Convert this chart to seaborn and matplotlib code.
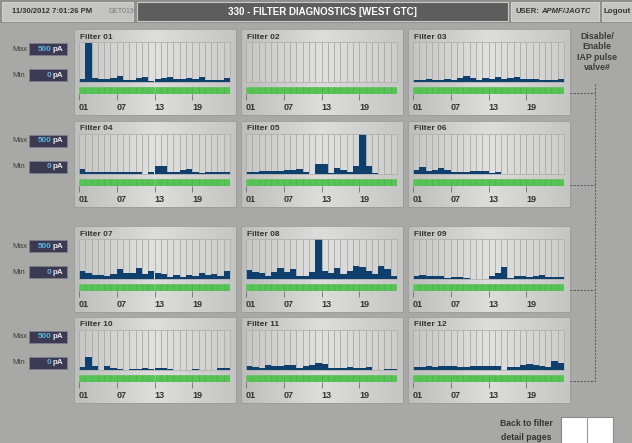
import numpy as np
import matplotlib
matplotlib.use('Agg')
import matplotlib.pyplot as plt
import seaborn as sns
from matplotlib.patches import Rectangle
from matplotlib.colors import LinearSegmentedColormap

sns.set_theme(style='white')
plt.rcParams['font.family'] = ['Liberation Sans', 'DejaVu Sans']

nan = np.nan

# pulse valve numbers on the x axis
days = ['01', '02', '03', '04', '05', '06', '07', '08', '09', '10', '11', '12',
        '13', '14', '15', '16', '17', '18', '19', '20', '21', '22', '23', '24']
tick_days = ['01', '07', '13', '19']

filter_names = ['Filter 01', 'Filter 02', 'Filter 03', 'Filter 04', 'Filter 05', 'Filter 06',
                'Filter 07', 'Filter 08', 'Filter 09', 'Filter 10', 'Filter 11', 'Filter 12']

# pulse readings in pA (0-500), nan = no reading
f01 = [33, 490, 50, 38, 38, 45, 70, 29, 29, 50, 62, 17, 42, 45, 62, 42, 33, 50, 42, 62, 29, 29, 29, 45]
f02 = [nan, nan, nan, nan, nan, nan, nan, nan, nan, nan, nan, nan,
       nan, nan, nan, nan, nan, nan, nan, nan, nan, nan, nan, nan]
f03 = [20, 20, 33, 29, 29, 38, 25, 54, 70, 50, 25, 45, 42, 58, 42, 45, 62, 38, 33, 33, 20, 20, 20, 38]
f04 = [68, 25, 25, 30, 25, 30, 25, 25, 25, 30, nan, 25, 97, 105, 25, 30, 50, 68, 30, 12, 30, 25, 25, 25]
f05 = [30, 30, 34, 34, 34, 34, 47, 47, 64, 30, nan, 123, 131, 13, 80, 47, 30, 102, 500, 97, 13, nan, nan, nan]
f06 = [54, 83, 38, 54, 75, 46, 25, 25, 25, 38, 38, 33, 17, 25, nan, nan, nan, nan, nan, nan, nan, nan, nan, nan]
f07 = [103, 73, 51, 51, 43, 60, 128, 81, 73, 137, 64, 94, 81, 68, 21, 56, 21, 47, 38, 81, 56, 68, 38, 94]
f08 = [112, 92, 79, 33, 88, 142, 83, 125, 38, 38, 83, 500, 100, 79, 138, 62, 96, 167, 150, 100, 62, 158, 125, 38]
f09 = [33, 50, 38, 38, 38, 17, 29, 25, 17, nan, nan, nan, 38, 71, 146, 17, 33, 42, 29, 42, 50, 29, 29, 21]
f10 = [33, 158, 50, nan, 50, 21, 12, nan, 12, 12, 21, 12, 21, 21, 12, nan, nan, nan, 12, nan, nan, nan, 21, 25]
f11 = [54, 38, 25, 58, 54, 50, 58, 58, 21, 50, 62, 92, 71, 21, 21, 21, 33, 21, 21, 33, nan, nan, 12, 12]
f12 = [38, 38, 46, 38, 50, 46, 46, 38, 42, 50, 50, 46, 50, 46, nan, 38, 42, 58, 75, 58, 46, 38, 112, 83]

# valve enabled status (green strip)
valve_on = [1, 1, 1, 1, 1, 1, 1, 1, 1, 1, 1, 1, 1, 1, 1, 1, 1, 1, 1, 1, 1, 1, 1, 1]

scale_max = '500'
scale_min = '0'
timestamp = '11/30/2012 7:01:26 PM'
station = 'DET019'
page_title = '330 - FILTER DIAGNOSTICS [WEST GTC]'
user_name = 'APMF/JAGTC'

series = [f01, f02, f03, f04, f05, f06, f07, f08, f09, f10, f11, f12]

W, H = 632, 443
fig = plt.figure(figsize=(W / 100, H / 100), dpi=100)
fig.patch.set_facecolor('#a8a9a6')

# full-size background axes in pixel coordinates
bg = fig.add_axes([0, 0, 1, 1])
bg.set_axis_off()


def px_axes(x, y, w, h):
    return fig.add_axes([x / W, 1 - (y + h) / H, w / W, h / H])


dark = '#333333'

# header strip
bg.add_patch(Rectangle((0, 0), W, 23, fc='#8e8f8c', ec='none'))
bg.add_patch(Rectangle((2, 2), 131, 19, fc='#c4c5c2', ec='#d8d8d6', lw=0.6))
bg.text(12, 11.5, timestamp, fontsize=5.5, fontweight='bold', color=dark, va='center')
bg.text(108, 11.5, station, fontsize=5, color='#7c7c7c', va='center')
bg.add_patch(Rectangle((137, 2), 371, 19, fc='#5c5d5c', ec='#c9c9c9', lw=0.8))
bg.text(322, 11.5, page_title, fontsize=7, fontweight='bold', color='white', ha='center', va='center')
bg.add_patch(Rectangle((511, 2), 88, 19, fc='#c4c5c2', ec='#d8d8d6', lw=0.6))
bg.text(516, 11.5, 'USER:', fontsize=5.5, fontweight='bold', color=dark, va='center')
bg.text(541, 11.5, user_name, fontsize=5.5, fontweight='bold', style='italic', color=dark, va='center')
bg.add_patch(Rectangle((602, 2), 40, 19, fc='#c4c5c2', ec='#d8d8d6', lw=0.6))
bg.text(604, 11.5, 'Logout', fontsize=5.8, fontweight='bold', color=dark, va='center')

col_x = [74, 241, 408]
row_y = [29, 121, 226, 317]
panel_cmap = LinearSegmentedColormap.from_list('panel', ['#bdbdbc', '#dddddc', '#c5c5c4'])
grad = np.linspace(0, 1, 200).reshape(1, -1)
bar_color = '#0e3f6d'

# Max / Min scale boxes on the left of every row
for py in row_y:
    for label, val, cy in [('Max', scale_max, py + 20), ('Min', scale_min, py + 46)]:
        bg.text(12, cy, label, fontsize=5.8, color='#3d3d3d', va='center')
        bg.add_patch(Rectangle((29, cy - 6), 38, 12, fc='#3b3a52', ec='#7d7d8e', lw=0.6))
        bg.text(51, cy, val, fontsize=5.8, fontweight='bold', color='#5db6e0', ha='right', va='center')
        bg.text(53, cy, 'pA', fontsize=5.8, fontweight='bold', color='#e8e8f0', va='center')

for i, (name, vals) in enumerate(zip(filter_names, series)):
    px = col_x[i % 3]
    py = row_y[i // 3]
    bg.imshow(grad, extent=(px, px + 162, py + 86, py), cmap=panel_cmap,
              aspect='auto', interpolation='bicubic')
    bg.add_patch(Rectangle((px, py), 162, 86, fill=False, ec='#9b9c9a', lw=0.6))
    bg.text(px + 6, py + 8, name, fontsize=6, fontweight='bold', color=dark, va='center')

    # bar chart
    ax = px_axes(px + 5, py + 13, 151, 40)
    ax.set_facecolor((1, 1, 1, 0.12))
    sns.barplot(x=days, y=vals, order=days, ax=ax, color=bar_color, width=1,
                saturation=1, errorbar=None, linewidth=0)
    ax.set_xlim(-0.5, 23.5)
    ax.set_ylim(0, 500)
    ax.set_xticks([])
    ax.set_yticks([])
    ax.set_xticks(np.arange(-0.5, 24, 1), minor=True)
    ax.tick_params(which='minor', length=0)
    ax.grid(which='minor', axis='x', color='#a8a8a8', lw=0.6)
    ax.set_axisbelow(True)
    ax.set_xlabel('')
    ax.set_ylabel('')
    for sp in ax.spines.values():
        sp.set_color('#b0b0b0')
        sp.set_linewidth(0.6)

    # green valve status strip with valve number ticks
    g = px_axes(px + 5, py + 58, 151, 7)
    sns.barplot(x=days, y=valve_on, order=days, ax=g, color='#55c455', width=1,
                saturation=1, errorbar=None, edgecolor='#43aa43', linewidth=0.4)
    g.set_xlim(-0.5, 23.5)
    g.set_ylim(0, 1)
    g.set_yticks([])
    g.set_xticks([days.index(d) - 0.5 for d in tick_days])
    g.set_xticklabels(tick_days, ha='left')
    g.tick_params(axis='x', bottom=True, direction='out', length=4.3, width=0.6,
                  color='#6e6e6e', pad=2, labelsize=6.5, labelcolor=dark)
    for lab in g.get_xticklabels():
        lab.set_fontweight('bold')
    g.set_xlabel('')
    g.set_ylabel('')
    for sp in g.spines.values():
        sp.set_visible(False)

# disable / enable IAP pulse valve links
bg.text(597, 52, 'Disable/\nEnable\nIAP pulse\nvalve#', fontsize=6.3, fontweight='bold',
        color='#3a3a3a', ha='center', va='center', linespacing=1.2)
dash = (0, (2, 1.5))
bg.plot([595, 595], [84, 381], ls=dash, color='#555555', lw=0.7)
for py in row_y:
    bg.plot([570, 595], [py + 64, py + 64], ls=dash, color='#555555', lw=0.7)

# back to detail pages button
bg.text(526, 424, 'Back to filter', fontsize=6.2, fontweight='bold', color=dark, ha='center', va='center')
bg.text(526, 437, 'detail pages', fontsize=6.2, fontweight='bold', color=dark, ha='center', va='center')
bg.add_patch(Rectangle((561, 417), 52, 30, fc='white', ec='#8a8a8a', lw=0.8))
bg.plot([587, 587], [417, 443], color='#9a9a9a', lw=0.8)

bg.set_xlim(0, W)
bg.set_ylim(H, 0)

fig.savefig('out.png', dpi=100)
